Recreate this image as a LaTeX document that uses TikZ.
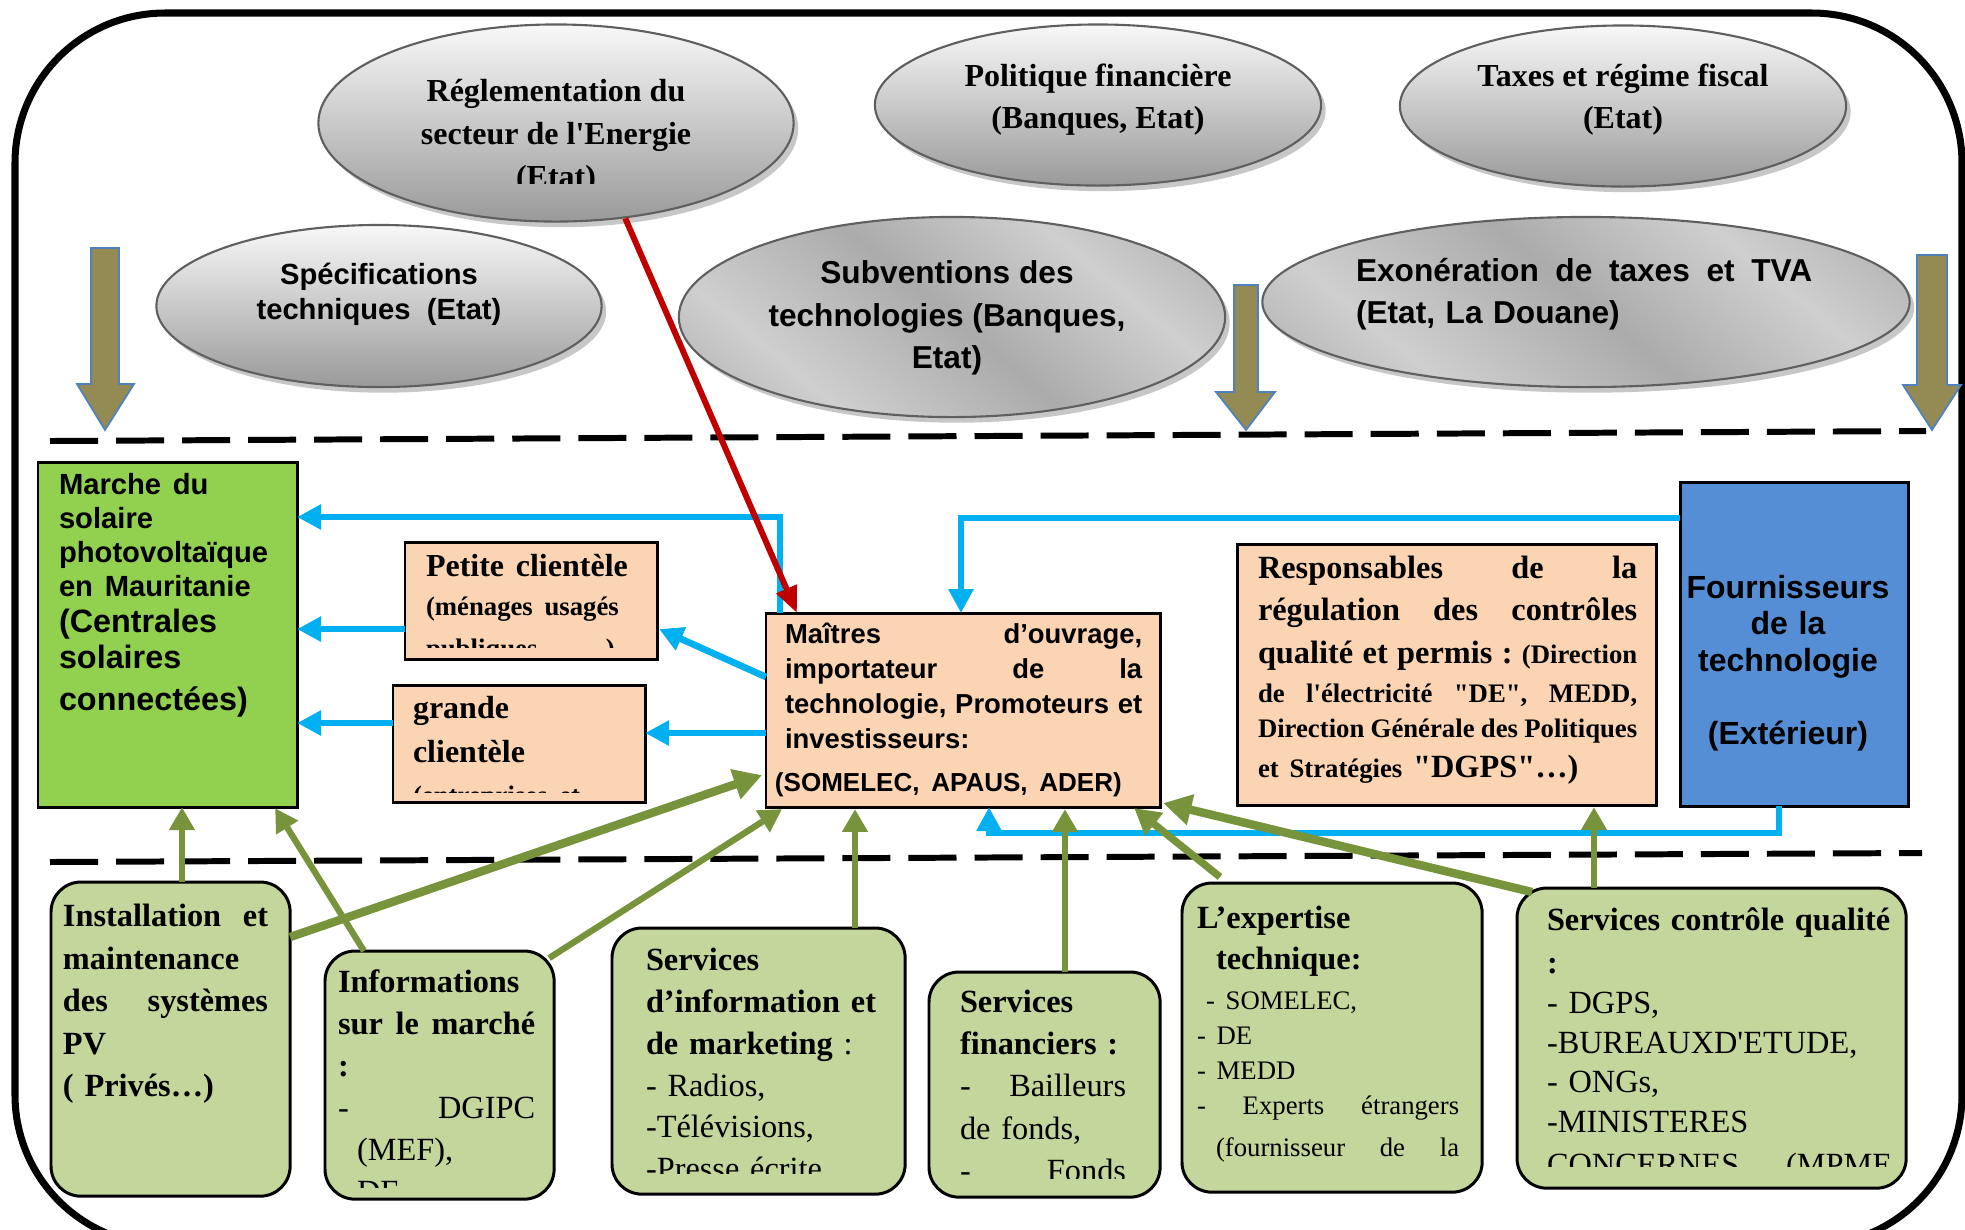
\documentclass[tikz,border=0pt]{standalone}
\usepackage{fontspec}
\setmainfont{Liberation Serif}[Ligatures=TeXOff]
\newfontfamily\arialf{Liberation Sans}
\usetikzlibrary{shapes.geometric,arrows.meta,calc,shadows}
\setlength{\parindent}{0pt}
\newcommand\fsz[2]{\fontsize{#1}{#2}\selectfont}
\definecolor{solgreen}{HTML}{92D050}
\definecolor{peach}{HTML}{FBD4B4}
\definecolor{supblue}{HTML}{558ED5}
\definecolor{svcgreen}{HTML}{C3D69B}
\definecolor{olive}{HTML}{948A54}
\definecolor{olivebd}{HTML}{4F81BD}
\definecolor{flowgreen}{HTML}{77933C}
\definecolor{flowblue}{HTML}{00B0F0}
\definecolor{regred}{HTML}{C00000}
\definecolor{ellbd}{HTML}{5F5F5F}
\definecolor{elltop}{HTML}{F8F8F8}
\definecolor{ellbot}{HTML}{9A9A9A}
\definecolor{glossdark}{HTML}{8C8C8C}
\definecolor{glosslight}{HTML}{CFCFCF}
\definecolor{glossmid}{HTML}{ABABAB}
% diagonal banded grey used for the two subsidy ellipses
\pgfdeclarehorizontalshading{ellgloss}{100bp}{color(0bp)=(glossdark); color(30bp)=(glosslight); color(50bp)=(glossmid); color(68bp)=(glosslight); color(100bp)=(glossdark)}
\begin{document}
\begin{tikzpicture}[x=0.01cm,y=-0.01cm,
  ellshadow/.style={drop shadow={shadow xshift=1.3pt,shadow yshift=-1.6pt,fill=black,opacity=0.22}},
  ell/.style={ellipse,draw=ellbd,line width=0.6pt,inner sep=0pt,top color=elltop,bottom color=ellbot,ellshadow},
  ellr/.style={ellipse,draw=ellbd,line width=0.6pt,inner sep=0pt,shading=ellgloss,shading angle=50,ellshadow},
  etxt/.style={inner sep=0pt,align=center,anchor=north,font={\bfseries\fsz{9.1}{12.1}}},
  atxt/.style={inner sep=0pt,align=center,anchor=north,font={\arialf\bfseries\fsz{8.3}{10}}},
  btxt/.style={inner sep=0pt,align=center,anchor=north,font={\arialf\bfseries\fsz{9}{12.1}}},
  box/.style={rectangle,draw=black,line width=0.85pt,anchor=north west,inner sep=0pt,outer sep=0pt},
  rbox/.style={box,rounded corners=0.3cm,fill=svcgreen},
  txt/.style={anchor=north west,inner sep=0pt,outer sep=0pt,align=left},
  sep/.style={line width=1.7pt,dash pattern=on 0.48cm off 0.18cm},
  olivearrow/.style={fill=olive,draw=olivebd,line width=0.5pt},
  bl/.style={draw=flowblue,line width=1.9pt,-{Triangle[width=6.8pt,length=6.8pt]}},
  rd/.style={draw=regred,line width=1.7pt,-{Triangle[width=6pt,length=7.5pt]}},
  gr/.style={draw=flowgreen,line width=1.8pt,-{Triangle[width=7pt,length=6.5pt]}},
  grm/.style={draw=flowgreen,line width=2.1pt,-{Triangle[width=7.8pt,length=7.3pt]}},
  grk/.style={draw=flowgreen,line width=2.4pt,-{Triangle[width=8.5pt,length=8pt]}}
]
\useasboundingbox (0,0) rectangle (1965,1229);
\clip (0,0) rectangle (1965,1229);

% outer frame
\draw[line width=2pt,rounded corners=1.5cm] (15,13) rectangle (1962,1245);

% separators between the levels
\draw[sep] (50,441) -- (1926,431);
\draw[sep] (50,862) -- (1922,853);

% institutional framework (ellipses)
\node[ell,minimum width=4.75cm,minimum height=1.97cm] (reg) at (556,123) {};
\node[ell,minimum width=4.46cm,minimum height=1.61cm] (pol) at (1098,105) {};
\node[ell,minimum width=4.46cm,minimum height=1.61cm] (tax) at (1623,106) {};
\node[ell,minimum width=4.45cm,minimum height=1.62cm] (spec) at (379,306) {};
\node[ellr,minimum width=5.46cm,minimum height=2.0cm] (subv) at (952,317) {};
\node[ellr,minimum width=6.47cm,minimum height=1.70cm] (exo) at (1586,302) {};

\begin{scope}
  \clip (300,20) rectangle (810,183);
  \node[etxt] (reg-t) at (556,79) {Réglementation du\\secteur de l'Energie\\(Etat)};
\end{scope}
\node[etxt] (pol-t) at (1098,63) {Politique financière\\(Banques, Etat)};
\node[etxt] (tax-t) at (1623,63) {Taxes et régime fiscal\\(Etat)};
\node[atxt] (spec-t) at (379,262) {Spécifications\\techniques\ \ (Etat)};
\node[btxt] (subv-t) at (947,260) {Subventions des\\technologies (Banques,\\Etat)};
\node[txt,text width=4.56cm,font={\arialf\bfseries\fsz{9}{12.1}}] (exo-t) at (1356,258)
  {Exonération\hfill de\hfill taxes\hfill et\hfill TVA\\(Etat, La Douane)};

% downward block arrows
\draw[olivearrow] (91,248) -- (119,248) -- (119,384) -- (134,384) -- (105,430) -- (77,384) -- (91,384) -- cycle;
\draw[olivearrow] (1234,285) -- (1258,285) -- (1258,392) -- (1275,392) -- (1246,430) -- (1216,392) -- (1234,392) -- cycle;
\draw[olivearrow] (1917,255) -- (1947,255) -- (1947,385) -- (1961,385) -- (1932,430) -- (1903,385) -- (1917,385) -- cycle;

% market actors
\node[box,fill=solgreen,minimum width=2.59cm,minimum height=3.45cm] (marche) at (38,462) {};
\node[box,fill=peach,minimum width=2.52cm,minimum height=1.17cm] (petite) at (405,542) {};
\node[box,fill=peach,minimum width=2.52cm,minimum height=1.17cm] (grande) at (393,685) {};
\node[box,fill=peach,minimum width=3.94cm,minimum height=1.94cm] (mo) at (766,613) {};
\node[box,fill=peach,minimum width=4.19cm,minimum height=2.61cm] (resp) at (1237,544) {};
\node[box,fill=supblue,minimum width=2.28cm,minimum height=3.24cm] (four) at (1680,482) {};

\node[txt,text width=2.35cm,font={\arialf\bfseries}] (marche-t) at (59,473)
  {\fsz{8.3}{9.7}Marche du\\solaire\\photovoltaïque\\en Mauritanie\par
   \fsz{9.2}{10.2}(Centrales\\solaires\\connectées)};
\begin{scope}
  \clip (405,542) rectangle (657,647);
  \node[txt,text width=2.2cm,font=\bfseries] (petite-t) at (426,554)
    {\fsz{9.1}{12}Petite clientèle\par\fsz{7.6}{11.2}(ménages usagés\\publiques,\ \ \ …)};
\end{scope}
\begin{scope}
  \clip (393,685) rectangle (645,792);
  \node[txt,text width=2.2cm,font=\bfseries] (grande-t) at (413,696)
    {\fsz{9.1}{12.5}grande\\clientèle\par\fsz{7.6}{11.5}(entreprises et};
\end{scope}
\node[txt,text width=3.57cm,font={\arialf\bfseries}] (mo-t) at (785,623)
  {\fsz{7.8}{10}Maîtres\hfill d’ouvrage,\\importateur\hfill de\hfill la\\technologie,\hfill Promoteurs\hfill et\\investisseurs:\par
   \fsz{7.4}{10.4}\hspace*{-0.1cm}(SOMELEC, APAUS, ADER)};
\node[txt,text width=3.79cm,font={\bfseries\fsz{9.2}{10}}] (resp-t) at (1258,556)
  {Responsables\hfill de\hfill la\\[2pt]régulation\hfill des\hfill contrôles\\[2.2pt]qualité\hfill et\hfill permis\hfill :\hfill{\fsz{7.6}{10}(Direction}\\[1.1pt]{\fsz{7.6}{10}de\hfill l'électricité\hfill "DE",\hfill MEDD,}\\{\fsz{7.6}{10}Direction\hfill Générale\hfill des\hfill Politiques}\\[1.4pt]{\fsz{7.6}{10}et Stratégies} "DGPS"…)};
\node[txt,anchor=north,text width=2.2cm,align=center,font={\arialf\bfseries\fsz{9.1}{10.4}}] (four-t) at (1788,575)
  {Fournisseurs\\de la\\technologie\\[10.4pt](Extérieur)};

% support services
\node[rbox,minimum width=2.39cm,minimum height=3.14cm] (inst) at (51,882) {};
\node[rbox,minimum width=2.29cm,minimum height=2.48cm] (info) at (325,951) {};
\node[rbox,minimum width=2.93cm,minimum height=2.66cm] (serv) at (612,928) {};
\node[rbox,minimum width=2.31cm,minimum height=2.25cm] (fin) at (929,972) {};
\node[rbox,minimum width=3.00cm,minimum height=3.09cm] (expt) at (1182,883) {};
\node[rbox,minimum width=3.89cm,minimum height=3.00cm] (cq) at (1517,888) {};

\node[txt,text width=2.05cm,font={\bfseries\fsz{9.2}{12.1}}] (inst-t) at (63,904)
  {Installation\hfill et\\maintenance\\des\hfill systèmes\\PV\\( Privés…)};
\begin{scope}
  \clip (325,951) rectangle (554,1187);
  \node[txt,text width=1.97cm,font={\fsz{9.2}{11.9}}] (info-t) at (338,970)
    {\bfseries Informations\\sur\hfill le\hfill marché\\:\par\mdseries -\hfill DGIPC\\\hspace*{0.19cm}(MEF),\\\hspace*{0.19cm}DE};
\end{scope}
\begin{scope}
  \clip (612,928) rectangle (905,1173);
  \node[txt,text width=2.5cm,font={\fsz{9.2}{11.9}}] (serv-t) at (646,948)
    {\bfseries Services\\d’information et\\de marketing\mdseries\ :\\- Radios,\\-Télévisions,\\-Presse écrite};
\end{scope}
\begin{scope}
  \clip (929,972) rectangle (1160,1178);
  \node[txt,text width=1.66cm,font={\fsz{9.2}{12}}] (fin-t) at (960,990)
    {\bfseries Services\\financiers :\par\mdseries -\hfill Bailleurs\\de fonds,\\-\hfill Fonds};
\end{scope}
\begin{scope}
  \clip (1182,883) rectangle (1482,1170);
  \node[txt,text width=2.62cm,font={\fsz{9.2}{11.8}}] (exp-t) at (1197,906)
    {\bfseries L’expertise\\\hspace*{0.19cm}technique:\par\vspace{1.2pt}
     \mdseries\fsz{7.6}{10}\hspace*{0.09cm}- SOMELEC,\\- DE\\- MEDD\\-\hfill Experts\hfill étrangers\\\hspace*{0.19cm}(fournisseur\hfill de\hfill la};
\end{scope}
\begin{scope}
  \clip (1517,888) rectangle (1906,1166);
  \node[txt,text width=3.45cm,font={\fsz{9.2}{12.2}}] (cq-t) at (1547,908)
    {\bfseries Services contrôle qualité\\:\par\mdseries\fsz{9.2}{11.3}- DGPS,\\-BUREAUXD'ETUDE,\\- ONGs,\\-MINISTERES\\CONCERNES\hfill (MPME};
\end{scope}

% flows between the market actors
\draw[bl] ($(mo.north west)+(14,0)$) |- ($(marche.north east)+(0,55)$);
\draw[bl] ($(petite.south west)+(0,-30)$) coordinate (pb) -- (pb -| marche.east);
\draw[bl] ($(grande.north west)+(0,38)$) coordinate (gb) -- (gb -| marche.east);
\draw[bl] ($(mo.north west)+(0,64)$) -- ($(petite.south east)+(2,-30)$);
\draw[bl] ($(mo.north west)+(0,120)$) coordinate (mb) -- (mb -| grande.east);
\draw[bl] ($(four.north west)+(0,36)$) -| ($(mo.north west)+(195,0)$);
\draw[bl,line join=miter] ($(four.south west)+(99,0)$) |- ($(mo.south west)+(223,26)$) -- ($(mo.south west)+(223,0)$);

% regulation
\draw[rd] (reg.-54) -- ($(mo.north west)+(31,0)$);

% support flows
\draw[gr] ($(inst.north west)+(131,0)$) -- ($(marche.south west)+(144,0)$);
\draw[gr] ($(info.north west)+(39,0)$) -- ($(marche.south east)+(-22,1)$);
\draw[grk] ($(inst.north east)+(0,55)$) -- ($(mo.south west)+(-4,-32)$);
\draw[gr] ($(info.north east)+(-5,7)$) -- ($(mo.south west)+(16,2)$);
\draw[gr] ($(serv.north west)+(243,0)$) -- ($(mo.south west)+(89,2)$);
\draw[gr] ($(fin.north west)+(136,0)$) -- ($(mo.south west)+(299,2)$);
\draw[grm] ($(expt.north west)+(38,-6)$) -- ($(mo.south east)+(-26,1)$);
\draw[grk] ($(cq.north west)+(15,4)$) -- ($(mo.south east)+(3,-4)$);
\draw[gr] ($(cq.north west)+(77,0)$) -- ($(resp.south west)+(357,2)$);
\end{tikzpicture}
\end{document}
